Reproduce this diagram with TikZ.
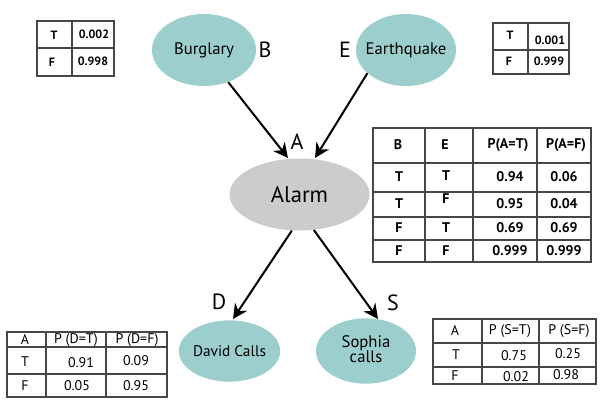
\documentclass[tikz,border=0pt]{standalone}
\usepackage{fontspec}
\setmainfont{PT Sans}
\usetikzlibrary{shapes.geometric,arrows.meta}
\definecolor{teal1}{RGB}{155,206,204}
\definecolor{gray1}{RGB}{204,204,204}
\definecolor{tline}{RGB}{70,70,70}
\newcommand{\zw}[1]{\makebox[0pt]{#1}}
\tikzset{
  var/.style={ellipse,fill=teal1,inner sep=0pt,font=\fontsize{12.5}{14}\selectfont},
  lbl/.style={font=\fontsize{16.5}{18}\selectfont,inner sep=0pt},
  arr/.style={line width=1.5pt,-{Stealth[length=11pt,width=11pt]}},
  tab/.style={draw=tline,line width=1.1pt},
  tcell/.style={inner sep=0pt,font=\fontsize{9}{10}\bfseries\selectfont},
  acell/.style={inner sep=0pt,font=\fontsize{10.5}{11}\bfseries\selectfont},
  dcell/.style={inner sep=0pt,font=\fontsize{10.5}{11}\selectfont},
}
\begin{document}
\begin{tikzpicture}[x=0.75pt,y=-0.75pt]
\useasboundingbox[fill=white] (0,0) rectangle (600,400);
% nodes
\node[var,minimum width=78pt,minimum height=54pt] (burg) at (204,50) {\zw{Burglary}};
\node[var,minimum width=75pt,minimum height=54pt] (eq) at (406,50) {\zw{Earthquake}};
\node[ellipse,fill=gray1,minimum width=105pt,minimum height=54pt,inner sep=0pt,font=\fontsize{17}{20}\selectfont] (alarm) at (299.5,194.5) {\zw{Alarm}};
\node[var,minimum width=76pt,minimum height=46pt,font=\fontsize{11.5}{13}\selectfont] (david) at (229.5,351) {\zw{David Calls}};
\node[var,minimum width=75pt,minimum height=49pt] (sophia) at (366,351) {\zw{\begin{tabular}{@{}c@{}}Sophia\\[-3pt]calls\end{tabular}}};
% letter labels
\node[lbl] (lB) at (265,50) {B};
\node[lbl] (lE) at (345,50) {E};
\node[lbl] (lA) at (297,142) {A};
\node[lbl] (lD) at (219,302) {D};
\node[lbl] (lS) at (393,303) {S};
% arrow tips
\coordinate (tBA) at (288,158);
\coordinate (tEA) at (315,158);
\coordinate (tAD) at (233,319);
\coordinate (tAS) at (378,319);
\draw[arr] (burg.307) -- (tBA);
\draw[arr] (eq.211) -- (tEA);
\draw[arr] (alarm.258) -- (tAD);
\draw[arr] (alarm.292) -- (tAS);
% table B
\draw[tab] (37,21) rectangle (114,76) (72,21) -- (72,76) (37,48) -- (114,48);
\node[tcell] (b1) at (54,35) {T};
\node[tcell] (b2) at (94,34) {0.002};
\node[tcell] (b3) at (52,62) {F};
\node[tcell] (b4) at (93,61) {0.998};
% table E
\draw[tab] (493,23) rectangle (569,74) (528,23) -- (528,74) (493,50) -- (569,50);
\node[tcell] (e1) at (510,35) {T};
\node[tcell] (e2) at (550,40) {0.001};
\node[tcell] (e3) at (509,61) {F};
\node[tcell] (e4) at (549,61) {0.999};
% table A
\draw[tab] (373,128) rectangle (591,262);
\draw[tab] (425,128) -- (425,262) (473,128) -- (473,262) (537,128) -- (537,262);
\draw[tab] (373,163) -- (591,163) (373,192) -- (591,192) (373,217) -- (591,217) (373,240) -- (591,240);
\node[acell] (a11) at (398,145) {B};
\node[acell] (a12) at (445,145) {E};
\node[acell] (a13) at (508,145) {P(A=T)};
\node[acell] (a14) at (566,145) {P(A=F)};
\node[acell] (a21) at (399,177) {T};
\node[acell] (a22) at (446,176) {T};
\node[acell] (a23) at (510,177) {0.94};
\node[acell] (a24) at (564,177) {0.06};
\node[acell] (a31) at (399,204) {T};
\node[acell] (a32) at (446,199) {F};
\node[acell] (a33) at (510,204) {0.95};
\node[acell] (a34) at (564,204) {0.04};
\node[acell] (a41) at (399,228) {F};
\node[acell] (a42) at (446,228) {T};
\node[acell] (a43) at (510,228) {0.69};
\node[acell] (a44) at (564,228) {0.69};
\node[acell] (a51) at (399,251) {F};
\node[acell] (a52) at (446,251) {F};
\node[acell] (a53) at (510,251) {0.999};
\node[acell] (a54) at (564,251) {0.999};
% table D
\draw[tab] (7,332) rectangle (167,397) (46,332) -- (46,397) (106,332) -- (106,397) (7,347) -- (167,347) (7,374) -- (167,374);
\node[dcell] (d11) at (25,340) {A};
\node[dcell] (d12) at (76,340) {P (D=T)};
\node[dcell] (d13) at (137,340) {P (D=F)};
\node[dcell] (d21) at (25,362) {T};
\node[dcell] (d22) at (81,363) {0.91};
\node[dcell] (d23) at (136,361) {0.09};
\node[dcell] (d31) at (25,386) {F};
\node[dcell] (d32) at (77,386) {0.05};
\node[dcell] (d33) at (136,386) {0.95};
% table S
\draw[tab] (433,319) rectangle (596,384) (482,319) -- (482,384) (539,319) -- (539,384) (433,343) -- (596,343) (433,367) -- (596,367);
\node[dcell] (s11) at (455,331) {A};
\node[dcell] (s12) at (510,331) {P (S=T)};
\node[dcell] (s13) at (569,331) {P (S=F)};
\node[dcell] (s21) at (456,355) {T};
\node[dcell] (s22) at (514,356) {0.75};
\node[dcell] (s23) at (568,354) {0.25};
\node[dcell] (s31) at (455,376) {F};
\node[dcell] (s32) at (516,377) {0.02};
\node[dcell] (s33) at (566,375) {0.98};
\end{tikzpicture}
\end{document}
